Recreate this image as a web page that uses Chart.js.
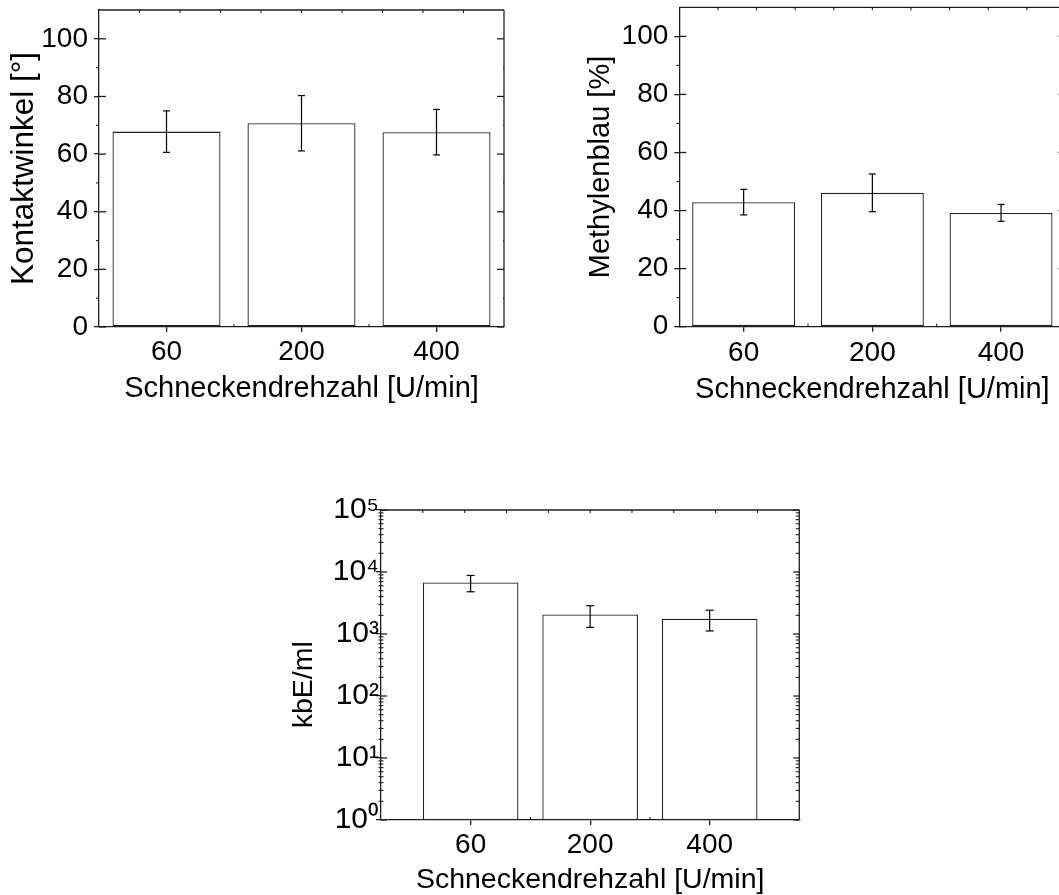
<!DOCTYPE html>
<html><head><meta charset="utf-8">
<script src="https://cdn.jsdelivr.net/npm/chart.js@4/dist/chart.umd.min.js"></script>
<style>
html,body{margin:0;padding:0;background:#fff;overflow:hidden;width:1059px;height:895px;position:relative;}
canvas{position:absolute;}
</style></head><body>
<canvas id="c1" width="540" height="420" style="left:0;top:0;width:540px;height:420px"></canvas>
<canvas id="c2" width="560" height="420" style="left:530px;top:0;width:560px;height:420px"></canvas>
<canvas id="c3" width="560" height="440" style="left:280px;top:470px;width:560px;height:440px"></canvas>
<script>
// ---- data ----
const xLabels = ['60', '200', '400'];
const xTitle = 'Schneckendrehzahl [U/min]';

const kontaktwinkel = [67.8, 70.7, 67.6];
const kontaktwinkelErr = [7.2, 9.6, 7.9];

const methylenblau = [42.9, 46.1, 39.2];
const methylenblauErr = [4.4, 6.5, 2.9];

const kbe = [6800, 2070, 1770];
const kbeErr = [2000, 790, 650];

const linTicks = [0, 20, 40, 60, 80, 100];
const linMinor = [10, 30, 50, 70, 90];
const logTicks = [1, 10, 100, 1000, 10000, 100000];
const logTickLabels = ['10⁰', '10¹', '10²', '10³', '10⁴', '10⁵'];
const logMinor = [];
logTicks.slice(0, -1).forEach(d => { for (let m = 2; m <= 9; m++) logMinor.push(m * d); });

// ---- style ----
const FAMILY = "'Liberation Sans', Arial, sans-serif";
const INK = '#1e1e1e';
const NB = '\u00A0';

const framePlugin = {
  id: 'frame',
  afterDraw(chart, args, o) {
    const {ctx, chartArea: a} = chart;
    const xs = chart.scales.x, ys = chart.scales.y;
    const seg = (x1, y1, x2, y2) => { ctx.beginPath(); ctx.moveTo(x1, y1); ctx.lineTo(x2, y2); ctx.stroke(); };
    ctx.save();
    ctx.strokeStyle = INK; ctx.lineWidth = 1.3;
    seg(a.left, a.top, a.right, a.top);
    seg(a.right, a.top, a.right, a.bottom);
    ys.ticks.forEach(t => {
      const p = ys.getPixelForValue(t.value);
      seg(a.left, p, a.left + o.majorIn, p);
      seg(a.right - o.majorIn, p, a.right, p);
    });
    ctx.lineWidth = 1.1;
    o.minorY.forEach(v => {
      const p = ys.getPixelForValue(v);
      seg(a.left - o.minorOut, p, a.left + o.minorIn, p);
      seg(a.right - o.minorIn - 1, p, a.right, p);
    });
    for (let i = 1; i < 10; i++) {
      const p = a.left + (a.right - a.left) * i / 10;
      seg(p, a.top, p, a.top + 3);
    }
    for (let i = 0; i < xs.ticks.length - 1; i++) {
      const p = (xs.getPixelForValue(xs.ticks[i].value) + xs.getPixelForValue(xs.ticks[i + 1].value)) / 2;
      seg(p, a.bottom, p, a.bottom - 3);
    }
    // error bars
    ctx.lineWidth = 1.2; ctx.strokeStyle = '#000';
    const meta = chart.getDatasetMeta(0);
    const vals = chart.data.datasets[0].data;
    meta.data.forEach((bar, i) => {
      const v = vals[i].y, e = o.err[i];
      const yt = ys.getPixelForValue(v + e), yb = ys.getPixelForValue(v - e);
      seg(bar.x, yt, bar.x, yb);
      seg(bar.x - o.cap, yt, bar.x + o.cap, yt);
      seg(bar.x - o.cap, yb, bar.x + o.cap, yb);
    });
    ctx.restore();
  }
};

function makeChart(id, cfg) {
  const data = cfg.values.map((v, i) => ({x: i, y: v}));
  const yScale = {
    type: cfg.log ? 'logarithmic' : 'linear',
    min: cfg.yMin, max: cfg.yMax,
    afterBuildTicks: s => { s.ticks = cfg.yTicks.map(v => ({value: v})); },
    afterFit: s => { s.width = cfg.yWidth; s.paddingTop = 0; s.paddingBottom = 0; },
    grid: { drawOnChartArea: false, drawTicks: true, tickLength: 5, color: INK, tickColor: INK, lineWidth: 1.3 },
    border: { color: INK, width: 1.3 },
    ticks: {
      color: '#000', font: { family: FAMILY, size: cfg.yTickSize }, padding: cfg.yTickPad,
      callback: (v) => cfg.yLabel ? cfg.yLabel(v) : String(v)
    },
    title: { display: true, text: cfg.yTitle, color: '#000', font: { family: FAMILY, size: cfg.yTitleSize }, padding: { top: cfg.yTitlePad, bottom: 0 } }
  };
  const xScale = {
    type: 'linear', min: cfg.xMin, max: cfg.xMax, offset: false,
    afterBuildTicks: s => { s.ticks = xLabels.map((c, i) => ({value: i})); },
    afterFit: s => { s.height = cfg.xHeight; s.paddingLeft = 0; s.paddingRight = 0; },
    grid: { offset: false, drawOnChartArea: false, drawTicks: true, tickLength: 5, color: INK, tickColor: INK, lineWidth: 1.3 },
    border: { color: INK, width: 1.3 },
    ticks: { color: '#000', font: { family: FAMILY, size: cfg.tickSize }, padding: cfg.xTickPad, autoSkip: false, maxRotation: 0,
      callback: (v) => xLabels[v] },
    title: { display: true, text: xTitle, color: '#000', font: { family: FAMILY, size: cfg.titleSize }, padding: { top: 0, bottom: cfg.xTitlePad } }
  };
  return new Chart(document.getElementById(id), {
    type: 'bar',
    data: { datasets: [{ data, backgroundColor: '#ffffff', borderColor: '#222222', borderWidth: 1.3, borderSkipped: false,
      barPercentage: 1.0, categoryPercentage: 0.8 }] },
    options: {
      responsive: false, animation: false, devicePixelRatio: 1,
      layout: { padding: cfg.pad },
      plugins: { legend: { display: false }, tooltip: { enabled: false },
        frame: { err: cfg.err, minorY: cfg.minorY, majorIn: cfg.majorIn, minorIn: cfg.minorIn, minorOut: cfg.minorOut, cap: cfg.cap } },
      scales: { x: xScale, y: yScale }
    },
    plugins: [framePlugin]
  });
}

makeChart('c1', {
  values: kontaktwinkel, err: kontaktwinkelErr, yTicks: linTicks, minorY: linMinor,
  yMin: 0, yMax: 110, xMin: -0.5, xMax: 2.5,
  yTitle: 'Kontaktwinkel [°]', yWidth: 99, xHeight: 93,
  pad: { left: 0, top: 10, right: 36, bottom: 0 },
  tickSize: 28, yTickSize: 28, titleSize: 29, yTitleSize: 31.5, yTickPad: 6, xTickPad: 3, yTitlePad: 5, xTitlePad: 13.6,
  majorIn: 7, minorIn: 0, minorOut: 3, cap: 3.5
});

makeChart('c2', {
  values: methylenblau, err: methylenblauErr, yTicks: linTicks, minorY: linMinor,
  yMin: 0, yMax: 110, xMin: -0.5, xMax: 2.5,
  yTitle: 'Methylenblau [%]', yWidth: 149.3, xHeight: 93.3,
  pad: { left: 0, top: 7.3, right: 24.6, bottom: 0 },
  tickSize: 28, yTickSize: 28, titleSize: 29, yTitleSize: 29, yTickPad: 6, xTickPad: 5, yTitlePad: 53.6, xTitlePad: 13.1,
  majorIn: 7, minorIn: 0, minorOut: 3, cap: 3.5
});

makeChart('c3', {
  values: kbe, err: kbeErr, yTicks: logTicks, minorY: logMinor, log: true,
  yLabel: (v) => logTickLabels[logTicks.indexOf(v)],
  yMin: 1, yMax: 100000, xMin: -0.75, xMax: 2.75,
  yTitle: 'kbE/ml' + NB.repeat(5), yWidth: 101, xHeight: 90,
  pad: { left: 0, top: 40, right: 40.7, bottom: 0 },
  tickSize: 28, yTickSize: 30, titleSize: 28.5, yTitleSize: 28.5, yTickPad: -3, xTickPad: 3, yTitlePad: 6.6, xTitlePad: 12.6,
  majorIn: 6, minorIn: 2.5, minorOut: 2.5, cap: 4
});
</script>
</body></html>
